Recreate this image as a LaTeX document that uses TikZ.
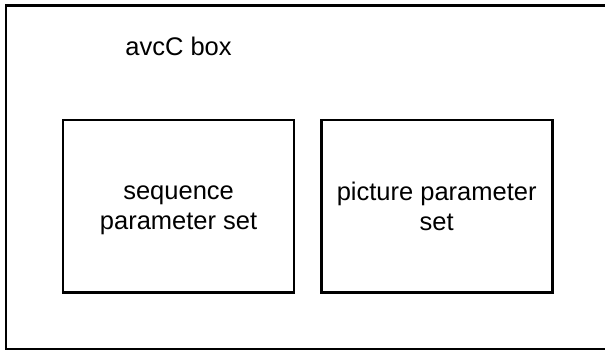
\documentclass[tikz,border=0pt]{standalone}
\usepackage{fontspec}
\setmainfont{Liberation Sans}
\begin{document}
\begin{tikzpicture}[x=1pt,y=-1pt,
  frame/.style={draw=black,line width=2.6pt},
  setbox/.style={frame,fill=white,minimum width=231pt,minimum height=172.7pt,
    inner sep=0pt},
  settext/.style={align=center,inner sep=0pt,
    font=\fontsize{25.5}{30}\selectfont},
  label/.style={font=\fontsize{25.5}{30}\selectfont,inner sep=0pt,anchor=base}]
  \useasboundingbox (0,0) rectangle (605,350);
  % outer container, running past the right edge
  \begin{scope}
    \clip (0,0) rectangle (605,350);
    \draw[frame] (6,5.5) rectangle (640,349.2);
  \end{scope}
  \node[label] (title) at (178.5,56) {avcC box};
  \node[setbox] (sps) at (178.6,206.4) {};
  \node[setbox] (pps) at (436.7,206.4) {};
  \node[settext] (spstext) at ([yshift=-3.5pt]sps.center) {sequence\\parameter set};
  \node[settext] (ppstext) at ([yshift=0pt]pps.center) {picture parameter\\set};
\end{tikzpicture}
\end{document}
